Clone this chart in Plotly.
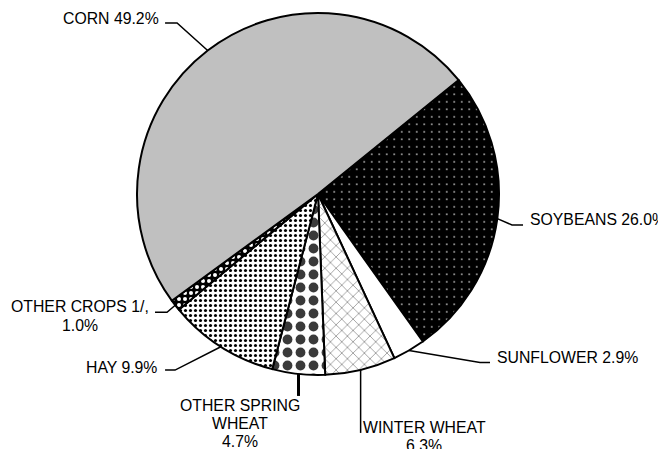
import math
import plotly.graph_objects as go

# ---------------- data ----------------
crops = ["SOYBEANS", "SUNFLOWER", "WINTER WHEAT", "OTHER SPRING WHEAT",
         "HAY", "OTHER CROPS 1/,", "CORN"]
shares = [26.0, 2.9, 6.3, 4.7, 9.9, 1.0, 49.2]
label_names = ["SOYBEANS", "SUNFLOWER", "WINTER WHEAT", "OTHER SPRING<br>WHEAT",
               "HAY", "OTHER CROPS 1/,", "CORN"]
label_breaks = [" ", " ", "<br>", "<br>", " ", "<br>", " "]

# ---------------- style ----------------
PAGE_OFF = 8                      # default body margin of the html page
W, H = 666 - PAGE_OFF, 449 - PAGE_OFF
CX, CY, R = 318, 194, 181         # pie centre / radius in page px
ROTATION = 51
FONT = dict(family="Liberation Sans, Arial, sans-serif", size=15.8, color="#000000")

fill_colors = ["#000000", "#ffffff", "#ffffff", "#ffffff", "#ffffff", "#000000", "#c0c0c0"]
pat_shape = [".", "", "x", ".", ".", ".", ""]
pat_fg = ["#ffffff", "#000000", "#7a7a7a", "#3a3a3a", "#000000", "#ffffff", "#000000"]
pat_size = [7.5, 8, 8, 13, 5, 6, 8]
pat_solid = [0.035, 0.3, 0.16, 0.45, 0.3, 0.35, 0.3]

# leader: elbow offset from edge point (dx, dy), horizontal leg, line width
leaders = [
    dict(dx=14.7, dy=6.4, leg=11, w=1.5),
    dict(dx=71, dy=12, leg=10, w=1.5),
    dict(dx=0, dy=63, leg=0, w=1.5),
    dict(dx=0, dy=22, leg=0, w=3),
    dict(dx=-45.8, dy=23.4, leg=-10, w=1.5),
    dict(dx=-8.2, dy=7, leg=-12, w=1.5),
    dict(dx=-30.6, dy=-27.6, leg=-12, w=1.5),
]
# text placement relative to the leader end point
text_pos = [
    dict(anchor="left", tx=5, ty=-5.5, gap=18),
    dict(anchor="left", tx=5, ty=-5, gap=18),
    dict(anchor="center", tx=63.5, ty=-5, gap=18),
    dict(anchor="center", tx=-58.5, ty=10, gap=18),
    dict(anchor="right", tx=-6, ty=-3, gap=18),
    dict(anchor="center", tx=-75, ty=-6, gap=19),
    dict(anchor="right", tx=-4, ty=-4, gap=18),
]


def px2paper(x, y):
    return (x - PAGE_OFF) / W, 1 - (y - PAGE_OFF) / H


dx0, dy1 = px2paper(CX - R, CY - R)
dx1, dy0 = px2paper(CX + R, CY + R)

fig = go.Figure(go.Pie(
    labels=crops,
    values=shares,
    sort=False,
    direction="clockwise",
    rotation=ROTATION,
    textinfo="none",
    hoverinfo="label+percent",
    domain=dict(x=[dx0, dx1], y=[dy0, dy1]),
    marker=dict(
        colors=fill_colors,
        line=dict(color="#000000", width=2),
        pattern=dict(shape=pat_shape, fgcolor=pat_fg, bgcolor=fill_colors,
                     size=pat_size, solidity=pat_solid, fillmode="replace"),
    ),
))

total = sum(shares)
cum = 0.0
shapes = []
annotations = []
for i, v in enumerate(shares):
    mid = cum + v / 2
    cum += v
    ang = math.radians(ROTATION + 360 * mid / total)
    ex = CX + R * math.sin(ang)
    ey = CY - R * math.cos(ang)
    ld = leaders[i]
    bx, by = ex + ld["dx"], ey + ld["dy"]
    fx, fy = bx + ld["leg"], by
    pts = [px2paper(ex, ey), px2paper(bx, by), px2paper(fx, fy)]
    path = "M {} {} L {} {} L {} {}".format(pts[0][0], pts[0][1], pts[1][0], pts[1][1],
                                           pts[2][0], pts[2][1])
    shapes.append(dict(type="path", xref="paper", yref="paper", path=path,
                       line=dict(color="#000000", width=ld["w"])))
    text = label_names[i] + label_breaks[i] + f"{v:.1f}%"
    tp = text_pos[i]
    for k, line in enumerate(text.split("<br>")):
        ax, ay = px2paper(fx + tp["tx"], fy + tp["ty"] + k * tp["gap"])
        annotations.append(dict(x=ax, y=ay, xref="paper", yref="paper", text=line,
                                showarrow=False, xanchor=tp["anchor"], yanchor="middle",
                                font=FONT))

fig.update_layout(
    width=W, height=H,
    margin=dict(l=0, r=0, t=0, b=0),
    paper_bgcolor="#ffffff",
    plot_bgcolor="#ffffff",
    showlegend=False,
    shapes=shapes,
    annotations=annotations,
)

fig.write_html("out.html")
